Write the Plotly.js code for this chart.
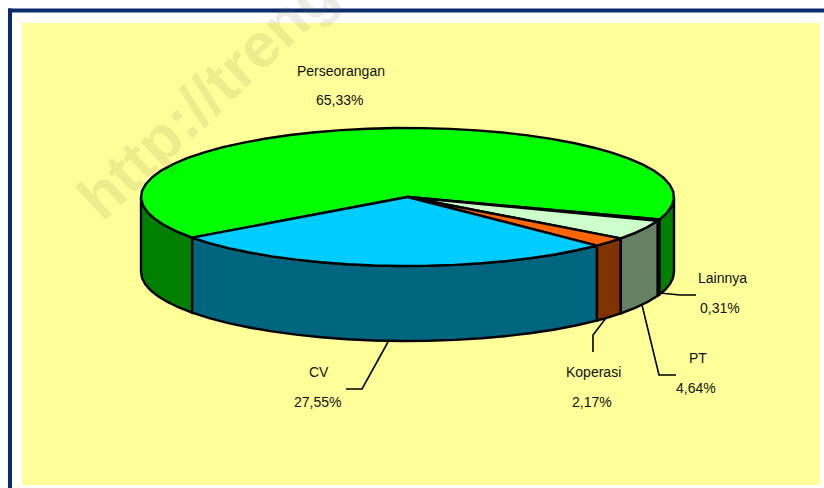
<!DOCTYPE html>
<html>
<head>
<meta charset="utf-8">
<script src="https://cdn.plot.ly/plotly-3.0.1.min.js"></script>
<style>html,body{margin:0;padding:0;background:#fff;overflow:hidden}#c{width:824px;height:488px}</style>
</head>
<body>
<div id="c"></div>
<script>
const categories = ["Perseorangan", "Lainnya", "PT", "Koperasi", "CV"];
const percentLabels = ["65,33%", "0,31%", "4,64%", "2,17%", "27,55%"];
const values = [65.33, 0.31, 4.64, 2.17, 27.55];
const topColors = ["#00FF00", "#00FF00", "#CCFFCC", "#FF6600", "#00CCFF"];
const sideColors = ["#007F00", "#007F00", "#668066", "#803300", "#006680"];
const startAngle = 143.9;

const cx = 407.5, cy = 197, rx = 266.5, ry = 69, depth = 75;
const rad = Math.PI / 180;
const pt = (a, d) => [cx + rx * Math.cos(a * rad), cy + ry * Math.sin(a * rad) + d];
function arc(a0, a1, d) {
  const n = Math.max(1, Math.ceil((a1 - a0) / 6));
  const out = [];
  for (let i = 0; i <= n; i++) out.push(pt(a0 + (a1 - a0) * i / n, d));
  return out;
}
const poly = (pts, fill, name) => ({
  type: "scatter", mode: "lines", name,
  x: pts.map(p => p[0]), y: pts.map(p => p[1]),
  fill: "toself", fillcolor: fill,
  line: {color: "#000", width: 2.4, simplify: false},
  hoverinfo: "name", showlegend: false
});

const total = values.reduce((s, v) => s + v, 0);
const sideTraces = [], topTraces = [];
let a = startAngle;
categories.forEach((name, i) => {
  const a1 = a + values[i] / total * 360;
  for (const [lo, hi] of [[0, 180], [360, 540]]) {
    const s = Math.max(a, lo), e = Math.min(a1, hi);
    if (e > s) {
      const front = arc(s, e, 0), back = arc(s, e, depth).reverse();
      sideTraces.push(poly(front.concat(back, [front[0]]), sideColors[i], name));
    }
  }
  topTraces.push(poly([[cx, cy]].concat(arc(a, a1, 0), [[cx, cy]]), topColors[i], name));
  a = a1;
});

const leaders = [
  {x: [388, 362, 346], y: [342, 389, 389]},
  {x: [606, 593, 593], y: [318, 335, 352]},
  {x: [642, 659, 676], y: [305, 375, 375]},
  {x: [660, 680, 696], y: [293, 295, 295]}
].map(l => ({type: "scatter", mode: "lines", x: l.x, y: l.y, line: {color: "#000", width: 1.6}, hoverinfo: "skip", showlegend: false}));

const labelPos = {
  "Perseorangan": [340.5, 71, 339, 100],
  "Lainnya": [722, 278, 720, 308],
  "PT": [698, 358, 696, 388],
  "Koperasi": [593, 372, 592, 402],
  "CV": [319, 372, 317, 402]
};
const annotations = [{
  text: "<b>http://treng</b>", xref: "x", yref: "y", x: 206, y: 95,
  xanchor: "center", yanchor: "middle", textangle: -43.3, showarrow: false,
  font: {family: "Liberation Sans, Arial", size: 62, color: "rgba(110,110,60,0.12)"}
}];
categories.forEach((name, i) => {
  const p = labelPos[name];
  const f = {family: "Liberation Sans, Arial", size: 14, color: "#111"};
  annotations.push({text: name, x: p[0], y: p[1], xref: "x", yref: "y", showarrow: false, font: f});
  annotations.push({text: percentLabels[i], x: p[2], y: p[3], xref: "x", yref: "y", showarrow: false, font: f});
});

const navy = "#0A2A6B";
const rect = (x0, y0, x1, y1, c) => ({type: "rect", x0, y0, x1, y1, xref: "x", yref: "y", layer: "below", fillcolor: c, line: {width: 0}});
const layout = {
  width: 824, height: 488, margin: {l: 0, r: 0, t: 0, b: 0},
  paper_bgcolor: "#fff", plot_bgcolor: "rgba(0,0,0,0)", showlegend: false,
  xaxis: {range: [0, 824], visible: false, fixedrange: true},
  yaxis: {range: [488, 0], visible: false, fixedrange: true},
  shapes: [rect(22, 23, 820, 485, "#FFFF99"), rect(8, 8.5, 824, 12.5, navy), rect(8, 8.5, 12, 488, navy)],
  annotations
};
Plotly.newPlot("c", sideTraces.concat(topTraces, leaders), layout, {displayModeBar: false, staticPlot: true});
</script>
</body>
</html>
